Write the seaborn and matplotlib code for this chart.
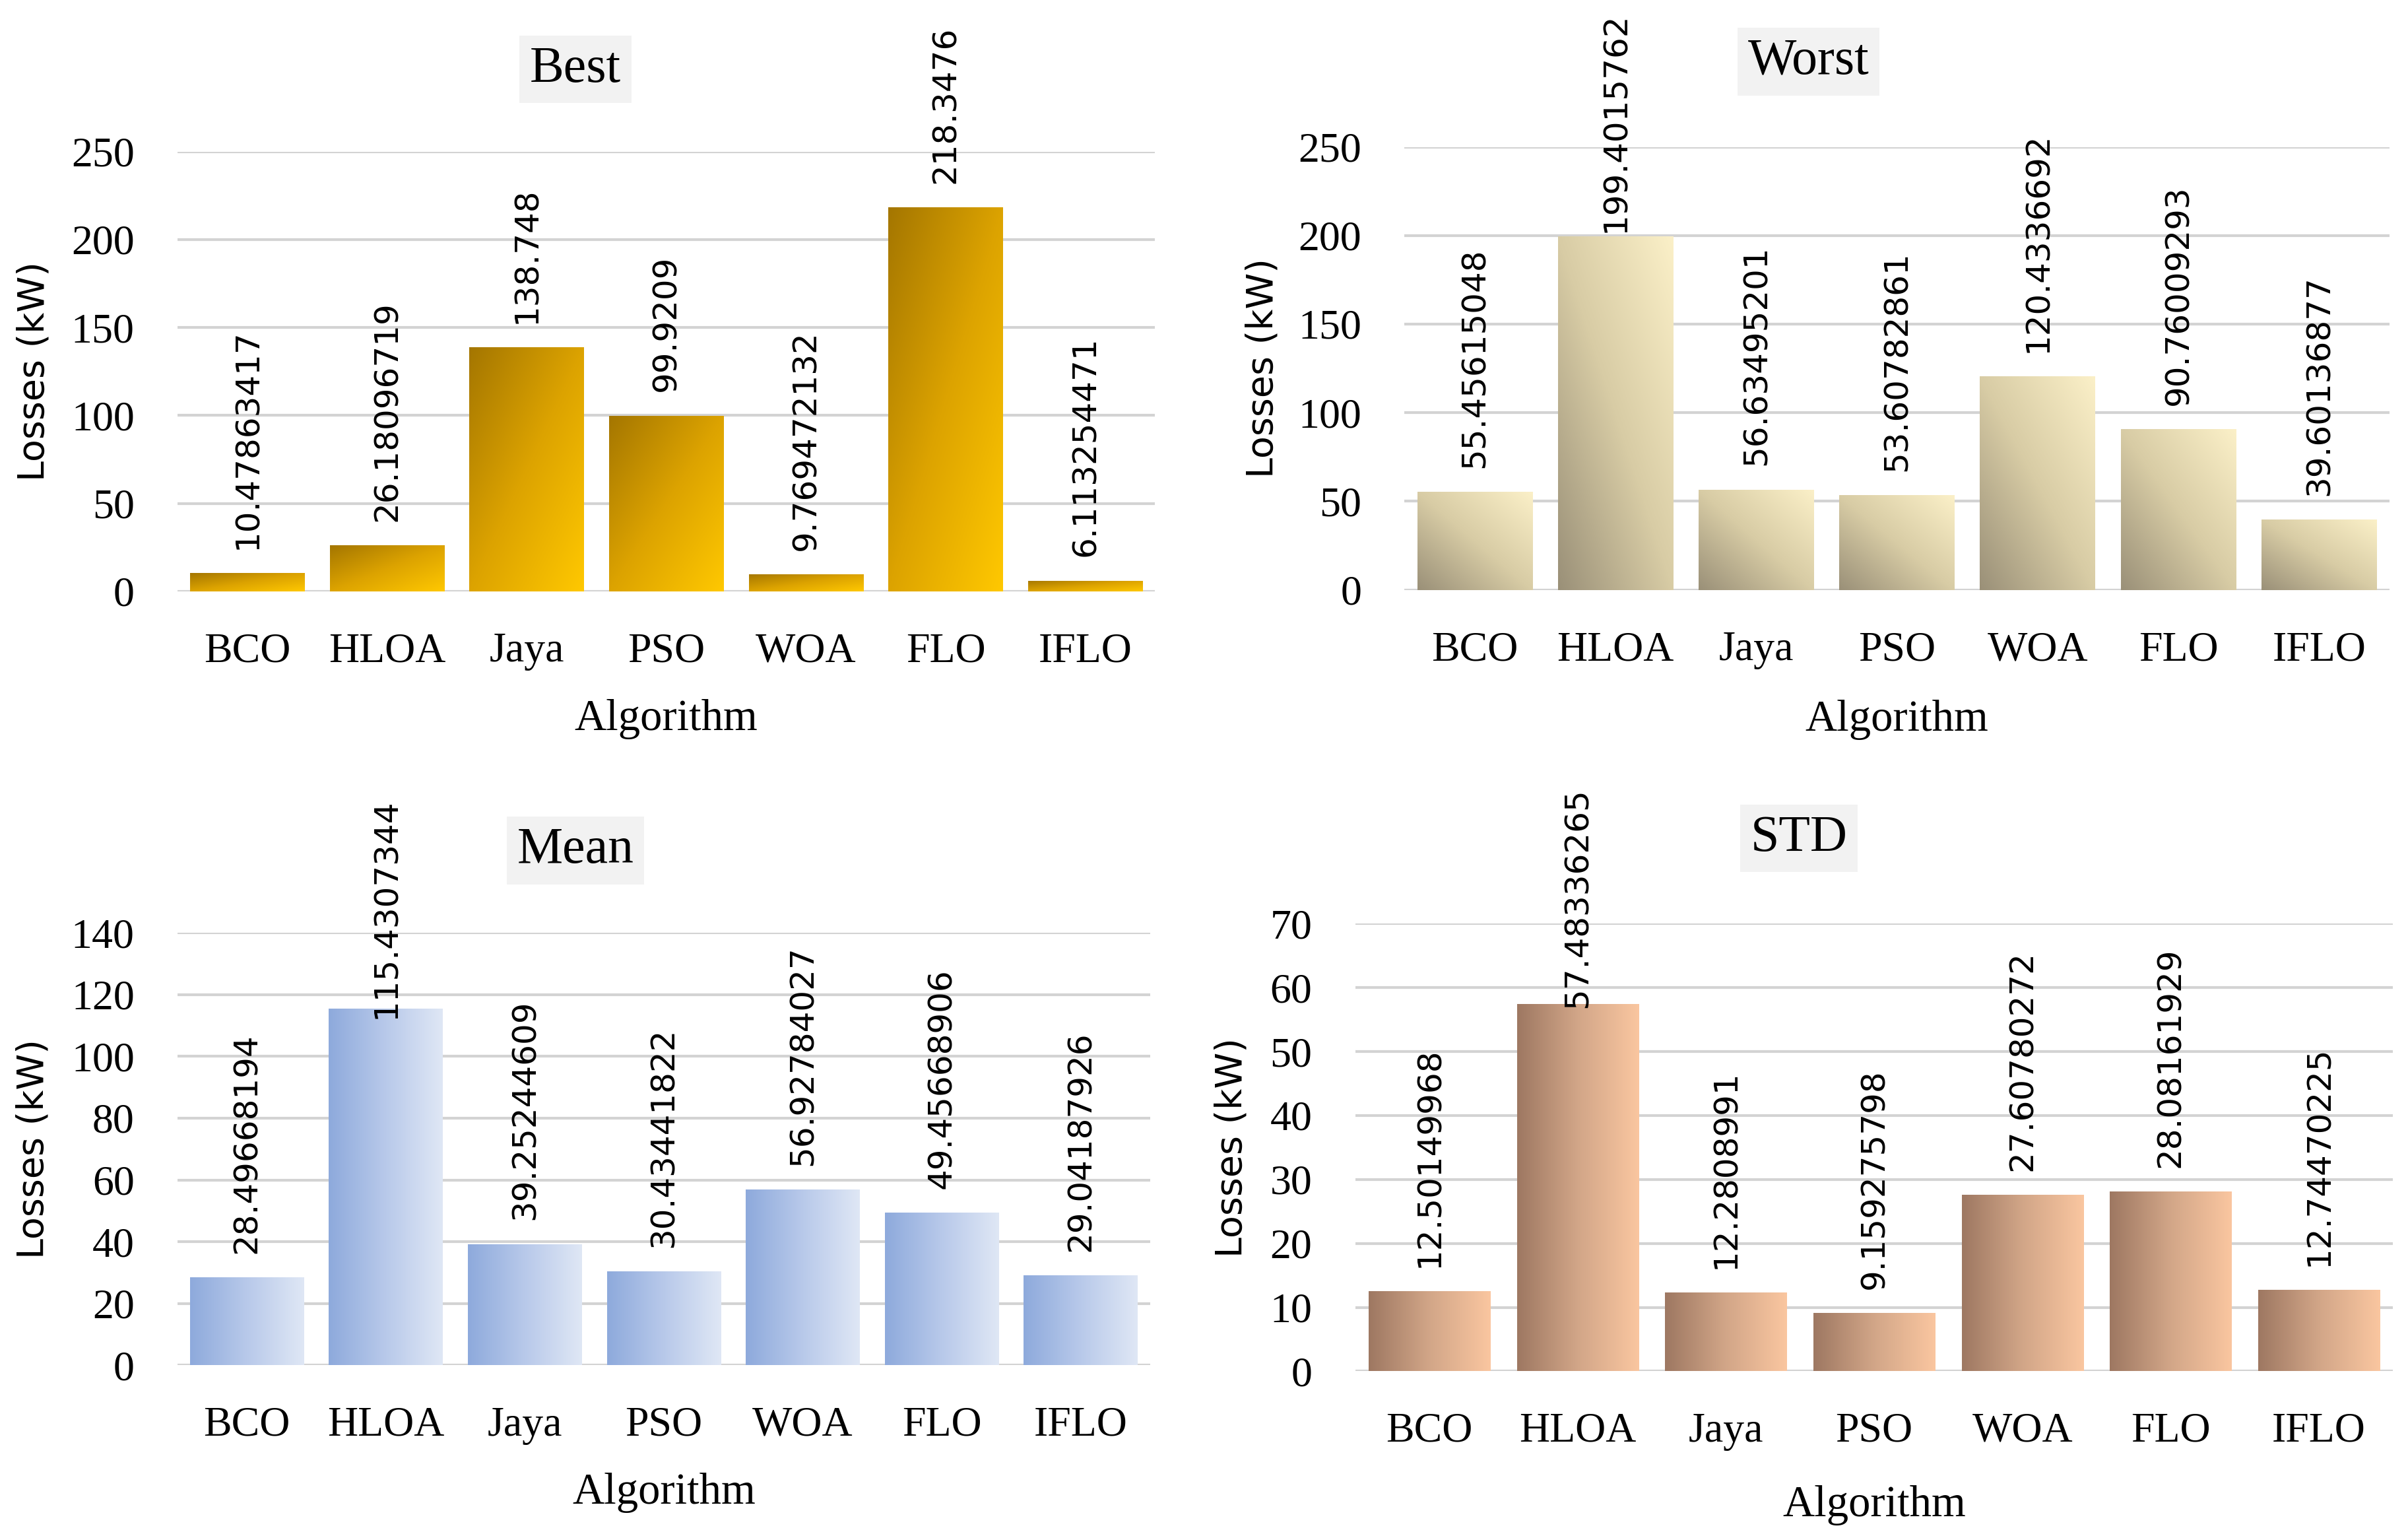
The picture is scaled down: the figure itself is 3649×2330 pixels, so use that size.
import numpy as np
import matplotlib
matplotlib.use("Agg")
import matplotlib.pyplot as plt
import seaborn as sns
from matplotlib.colors import LinearSegmentedColormap

algorithms = ["BCO", "HLOA", "Jaya", "PSO", "WOA", "FLO", "IFLO"]

best_vals = [10.47863417, 26.18096719, 138.748, 99.9209, 9.769472132, 218.3476, 6.113254471]
worst_vals = [55.45615048, 199.4015762, 56.63495201, 53.60782861, 120.4336692, 90.76009293, 39.60136877]
mean_vals = [28.49668194, 115.4307344, 39.25244609, 30.43441822, 56.92784027, 49.45668906, 29.04187926]
std_vals = [12.50149968, 57.48336265, 12.2808991, 9.159275798, 27.60780272, 28.08161929, 12.74470225]

best_ticks = [0, 50, 100, 150, 200, 250]
worst_ticks = [0, 50, 100, 150, 200, 250]
mean_ticks = [0, 20, 40, 60, 80, 100, 120, 140]
std_ticks = [0, 10, 20, 30, 40, 50, 60, 70]

sns.set_theme(style="white")
plt.rcParams['font.family'] = ['Liberation Serif', 'DejaVu Serif']
plt.rcParams['text.color'] = 'black'
plt.rcParams['axes.labelcolor'] = 'black'

W, H, DPI = 3649, 2330, 100
fig = plt.figure(figsize=(W / DPI, H / DPI), dpi=DPI)

panels = [
    dict(title="Best", vals=best_vals, ticks=best_ticks,
         rect=[0.0737, 0.6155, 0.406, 0.286], grad="diag_down",
         colors=["#a47600", "#dca300", "#ffc800"],
         title_xy=(0.239, 0.955), ylab_x=-0.147, xlab_y=-0.291, top_lim=0.992),
    dict(title="Worst", vals=worst_vals, ticks=worst_ticks,
         rect=[0.5833, 0.6165, 0.409, 0.288], grad="diag_up",
         colors=["#9a9078", "#d8cca5", "#fbf0c8"],
         title_xy=(0.751, 0.960), ylab_x=-0.144, xlab_y=-0.293, top_lim=0.992),
    dict(title="Mean", vals=mean_vals, ticks=mean_ticks,
         rect=[0.0737, 0.1124, 0.404, 0.281], grad="horiz",
         colors=["#8eaadc", "#b8c9ea", "#dfe7f5"],
         title_xy=(0.239, 0.447), ylab_x=-0.148, xlab_y=-0.296, top_lim=0.481),
    dict(title="STD", vals=std_vals, ticks=std_ticks,
         rect=[0.5628, 0.1084, 0.431, 0.291], grad="horiz",
         colors=["#9e7862", "#d2a688", "#fac6a0"],
         title_xy=(0.747, 0.455), ylab_x=-0.119, xlab_y=-0.30, top_lim=0.488),
]

LABEL_OFFSET = 26  # points above bar top


def gradient_array(kind, n=200):
    u = np.linspace(0, 1, n)
    X, Y = np.meshgrid(u, u)  # Y=0 bottom (origin lower)
    if kind == "diag_down":      # dark top-left -> bright bottom-right
        t = (X + (1 - Y)) / 2
    elif kind == "diag_up":      # dark bottom-left -> light top-right
        t = (X + Y) / 2
    else:                        # dark left -> light right
        t = X
    return t


all_labels = []
for p in panels:
    ax = fig.add_axes(p["rect"])
    sns.barplot(x=algorithms, y=p["vals"], ax=ax, width=0.82, color="#cccccc",
                saturation=1, zorder=3)
    cmap = LinearSegmentedColormap.from_list(p["title"], p["colors"])
    t = gradient_array(p["grad"])
    for patch in ax.patches:
        x0, y0 = patch.get_x(), patch.get_y()
        w, h = patch.get_width(), patch.get_height()
        patch.set_facecolor("none")
        patch.set_edgecolor("none")
        im = ax.imshow(t, cmap=cmap, vmin=0, vmax=1, origin="lower",
                       extent=[x0, x0 + w, y0, y0 + h], aspect="auto",
                       zorder=3, interpolation="bilinear")
        im.set_clip_path(patch)

    ax.set_xlim(-0.5, len(algorithms) - 0.5)
    ax.set_ylim(p["ticks"][0], p["ticks"][-1])
    ax.set_yticks(p["ticks"])
    sns.despine(ax=ax, left=True, bottom=True)
    ax.grid(axis="y", color="#d3d3d3", linewidth=3, zorder=0)
    ax.grid(axis="x", visible=False)
    ax.set_axisbelow(True)
    ax.tick_params(axis="both", length=0, labelsize=46, colors="black")
    ax.tick_params(axis="x", pad=45)
    ax.tick_params(axis="y", pad=47)

    ax.set_xlabel("Algorithm", fontsize=48, va="center", color="black")
    ax.xaxis.set_label_coords(0.5, p["xlab_y"])
    ax.set_ylabel("Losses (kW)", fontsize=40, family=["DejaVu Sans"],
                  va="center", ha="center", color="black")
    ax.yaxis.set_label_coords(p["ylab_x"], 0.5)

    fig.text(p["title_xy"][0], p["title_xy"][1], p["title"], fontsize=56,
             ha="center", va="center", color="black",
             bbox=dict(boxstyle="square,pad=0.2", facecolor="#f2f2f2",
                       edgecolor="none"))

    for i, v in enumerate(p["vals"]):
        ann = ax.annotate(f"{v}", xy=(i, v), xytext=(0, LABEL_OFFSET),
                          textcoords="offset points", rotation=90,
                          ha="center", va="bottom", fontsize=36,
                          family=["DejaVu Sans"], color="black",
                          annotation_clip=False, zorder=5)
        all_labels.append((ann, p["top_lim"]))

# keep labels inside the chart area, like the original spreadsheet chart
fig.canvas.draw()
renderer = fig.canvas.get_renderer()
for ann, lim in all_labels:
    bb = ann.get_window_extent(renderer)
    top_px = lim * H
    if bb.y1 > top_px:
        shift = (bb.y1 - top_px) * 72 / DPI
        ann.xyann = (0, LABEL_OFFSET - shift)

fig.savefig("out.png", dpi=DPI)
